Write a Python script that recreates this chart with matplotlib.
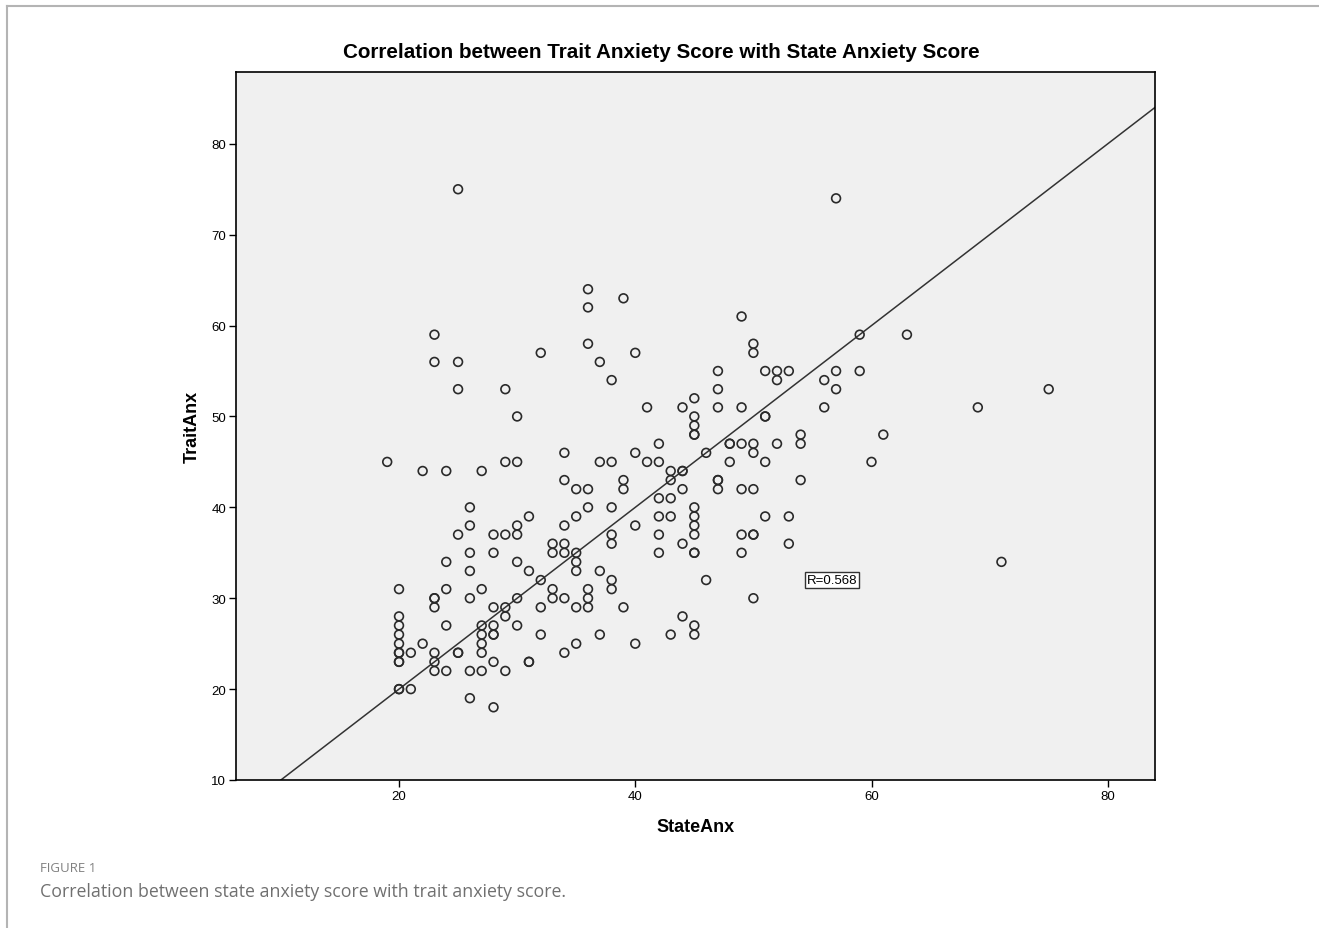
import numpy as np
import matplotlib
matplotlib.use("Agg")
import matplotlib.pyplot as plt
from matplotlib.lines import Line2D

plt.rcParams["font.family"] = ["Liberation Sans", "DejaVu Sans"]

# StateAnx value -> TraitAnx values
state_vals = [19, 20, 21, 22, 23, 24, 25, 26, 27, 28, 29, 30, 31, 32, 33, 34, 35, 36,
              37, 38, 39, 40, 41, 42, 43, 44, 45, 46, 47, 48, 49, 50, 51, 52, 53, 54,
              56, 57, 59, 60, 61, 63, 69, 71, 75]
trait_groups = [
    [45],
    [31, 28, 27, 26, 25, 24, 24, 23, 23, 20, 20],
    [24, 20],
    [44, 25],
    [59, 56, 30, 30, 29, 24, 23, 22],
    [44, 34, 31, 27, 22],
    [75, 56, 53, 37, 24, 24],
    [40, 38, 35, 33, 30, 22, 19],
    [44, 31, 27, 26, 25, 24, 22],
    [37, 35, 29, 27, 26, 26, 23, 18],
    [53, 45, 37, 29, 28, 22],
    [50, 45, 38, 37, 34, 30, 27],
    [39, 33, 23, 23],
    [57, 32, 29, 26],
    [36, 35, 31, 30],
    [46, 43, 38, 36, 35, 30, 24],
    [42, 39, 35, 34, 33, 29, 25],
    [64, 62, 58, 42, 40, 31, 30, 29],
    [56, 45, 33, 26],
    [54, 45, 40, 37, 36, 32, 31],
    [63, 43, 42, 29],
    [57, 46, 38, 25],
    [51, 45],
    [47, 45, 41, 39, 37, 35],
    [44, 43, 41, 39, 26],
    [51, 44, 44, 42, 36, 28],
    [52, 50, 49, 48, 48, 40, 39, 38, 37, 35, 35, 27, 26],
    [46, 32],
    [55, 53, 51, 43, 43, 42],
    [47, 47, 45],
    [61, 51, 47, 42, 37, 35],
    [58, 57, 47, 46, 42, 37, 37, 30],
    [55, 50, 50, 45, 39],
    [55, 54, 47],
    [55, 39, 36],
    [48, 47, 43],
    [54, 51],
    [74, 55, 53],
    [59, 55],
    [45],
    [48],
    [59],
    [51],
    [34],
    [53],
]

# reference line as drawn (two points on it) and the R label
line_p1 = (20, 20)
line_p2 = (60, 60)
r_label = "R=0.568"
r_pos = (54.5, 32)

x_ticks = [20, 40, 60, 80]
y_ticks = [10, 20, 30, 40, 50, 60, 70, 80]

state = np.concatenate([[s] * len(g) for s, g in zip(state_vals, trait_groups)])
trait = np.concatenate(trait_groups)

W, H = 1319, 929
fig = plt.figure(figsize=(W / 100, H / 100), dpi=100)
fig.patch.set_facecolor("white")

# thin grey frame lines on the top and left of the figure panel
fig.add_artist(Line2D([7 / W, 1], [1 - 7 / H, 1 - 7 / H], color="#b4b4b4", lw=1.5,
                      transform=fig.transFigure))
fig.add_artist(Line2D([7 / W, 7 / W], [0, 1 - 7 / H], color="#b4b4b4", lw=1.5,
                      transform=fig.transFigure))

ax = fig.add_axes([236 / W, 1 - 781 / H, (1155 - 236) / W, (781 - 73) / H])
ax.set_facecolor("#f0f0f0")

ax.scatter(state, trait, s=40, facecolors="none", edgecolors="#2a2a2a", linewidths=1.2,
           zorder=3)
ax.axline(line_p1, line_p2, color="#333333", lw=1.1, zorder=2)

ax.set_xlim(6.2, 84)
ax.set_ylim(10, 87.9)
ax.set_xticks(x_ticks)
ax.set_yticks(y_ticks)
ax.tick_params(direction="out", length=5, width=1, labelsize=9.5, colors="black", pad=2)
for sp in ax.spines.values():
    sp.set_linewidth(1.2)
    sp.set_color("black")

ax.text(r_pos[0], r_pos[1], r_label, fontsize=9.5, ha="left", va="center",
        bbox=dict(boxstyle="square,pad=0.15", facecolor="white", edgecolor="#333333",
                  linewidth=1), zorder=4)

narrow = ["Liberation Sans Narrow", "Liberation Sans", "DejaVu Sans"]
ax.set_xlabel("StateAnx", fontsize=13, fontweight="bold", labelpad=12, family=narrow)
ax.set_ylabel("TraitAnx", fontsize=13, fontweight="bold", labelpad=8, family=narrow)
fig.text(661 / W, 1 - 52 / H,
         "Correlation between Trait Anxiety Score with State Anxiety Score",
         fontsize=14.9, fontweight="bold", ha="center", va="center")

fig.text(40 / W, 1 - 869 / H, "FIGURE 1", fontsize=9.5, color="#808080", ha="left",
         va="center", family="Open Sans")
fig.text(40 / W, 1 - 892 / H, "Correlation between state anxiety score with trait anxiety score.",
         fontsize=12.8, color="#707070", ha="left", va="center", family="Open Sans")

fig.savefig("out.png", dpi=100)
